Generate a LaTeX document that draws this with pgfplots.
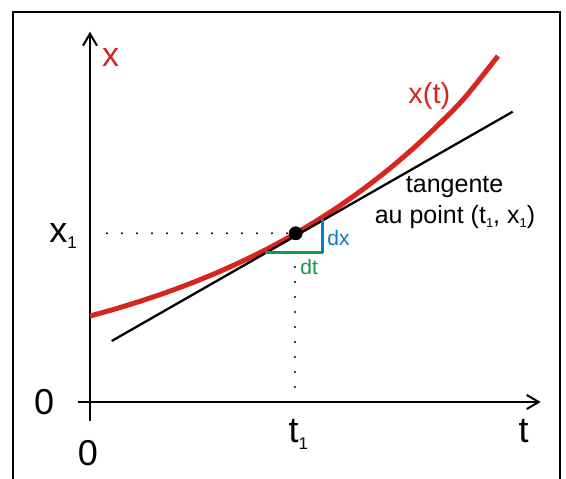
\documentclass[border=0pt]{standalone}
\usepackage{pgfplots}
\pgfplotsset{compat=1.18}
\usepackage{fontspec}
\setmainfont{Liberation Sans}
\usetikzlibrary{arrows.meta}
\definecolor{cred}{RGB}{215,38,30}
\definecolor{cblue}{RGB}{10,122,194}
\definecolor{cgreen}{RGB}{14,154,72}
\newcommand{\bigfont}{\fontsize{18}{20}\selectfont}
\newcommand{\lo}[2]{\raisebox{-#1}{\fontsize{#2}{#2}\selectfont 1}}
\begin{document}
\begin{tikzpicture}
\useasboundingbox (0,0) rectangle (283pt,239pt);
\clip (0,0) rectangle (283pt,239pt);
\begin{axis}[
    at={(0,0)}, anchor=south west,
    x=0.5pt, y=0.5pt,
    xmin=-90, xmax=476,
    ymin=-76, ymax=402,
    hide axis,
    clip=false,
]
% frame (open at the bottom)
\draw[line width=1.25pt] (axis cs:-77,-90) -- (axis cs:-77,390) -- (axis cs:470,390) -- (axis cs:470,-90);
% axes
\draw[line width=1pt, -{Straight Barb[length=6pt,width=7pt]}] (axis cs:-11.7,0) -- (axis cs:450.7,0);
\draw[line width=1pt, -{Straight Barb[length=6pt,width=7pt]}] (axis cs:0,-18.7) -- (axis cs:0,370.3);
% dotted guides
\addplot[black, line width=1.1pt, line cap=round, dash pattern=on 0pt off 7.5pt]
    coordinates {(17,168.7)(200,168.7)};
\addplot[black, line width=1.1pt, line cap=round, dash pattern=on 0pt off 7.5pt]
    coordinates {(205,0)(205,158)};
% curve x(t)
\addplot[cred, line width=2.5pt, smooth] coordinates {
    (0,86)(25,93.0)(50,100.7)(75,109.1)(100,118.4)(125,128.5)(150,139.7)
    (175,151.9)(200,165.4)(225,180.2)(250,196.4)(275,214.2)(300,233.7)
    (325,255.2)(350,278.8)(375,304.6)(408,346)};
% tangent
\addplot[black, line width=1.15pt] coordinates {(21.7,61)(422.7,290.3)};
% dt and dx
\addplot[cgreen, line width=1.3pt] coordinates {(175,149.3)(232.7,149.3)};
\addplot[cblue, line width=1.3pt] coordinates {(232.7,149.3)(232.7,183)};
% point (t1, x1)
\addplot[only marks, mark=*, mark size=3.25pt, black] coordinates {(205.7,168.7)};
% labels
\node[anchor=base west, inner sep=0, text=cred] at (axis cs:11.7,336) {\fontsize{17}{20}\selectfont x};
\node[anchor=base west, inner sep=0, text=cred] at (axis cs:318,298.7) {\fontsize{14.5}{17}\selectfont x(t)};
\node[anchor=base, inner sep=0] at (axis cs:364.6,209.3) {\fontsize{12.5}{15}\selectfont tangente};
\node[anchor=base, inner sep=0] at (axis cs:365,179) {\fontsize{12.5}{15}\selectfont au point (t\lo{2pt}{6.5pt}, x\lo{2pt}{6.5pt})};
\node[anchor=base west, inner sep=0, text=cblue] at (axis cs:237,157) {\fontsize{10.5}{12}\selectfont dx};
\node[anchor=base west, inner sep=0, text=cgreen] at (axis cs:210,128) {\fontsize{10.5}{12}\selectfont dt};
\node[anchor=base west, inner sep=0] at (axis cs:-41,160) {\bigfont x\lo{3.3pt}{8.5pt}};
\node[anchor=base west, inner sep=0] at (axis cs:198.3,-40.7) {\bigfont t\lo{3.3pt}{8.5pt}};
\node[anchor=base west, inner sep=0] at (axis cs:428.3,-40.3) {\bigfont t};
\node[anchor=base, inner sep=0] at (axis cs:-45.8,-12.3) {\bigfont 0};
\node[anchor=base, inner sep=0] at (axis cs:-2,-63) {\bigfont 0};
\end{axis}
\end{tikzpicture}
\end{document}
